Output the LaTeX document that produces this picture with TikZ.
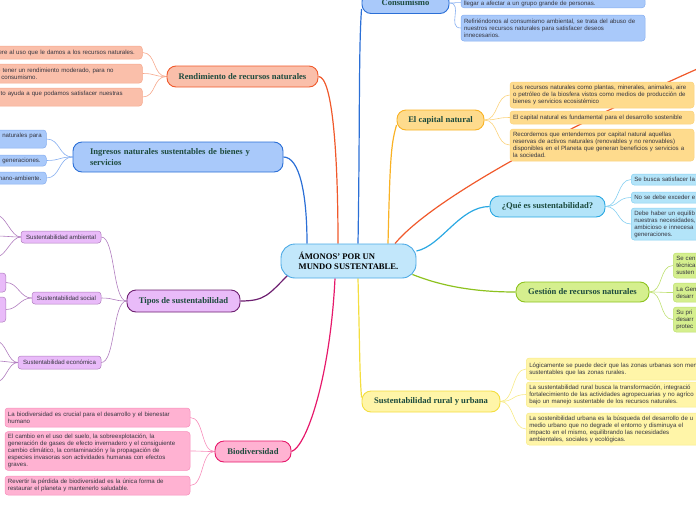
\documentclass[tikz,border=0pt]{standalone}
\usepackage{fontspec}
\setmainfont{Liberation Serif}
\setsansfont{Liberation Sans}
\usepackage{tikz}
\usetikzlibrary{positioning,calc,backgrounds}
\hyphenpenalty=10000
\exhyphenpenalty=10000

\definecolor{ctrfill}{HTML}{C2E7FB}
\definecolor{ctrline}{HTML}{4BA9E5}
\definecolor{bluefill}{HTML}{A9C9FA}
\definecolor{blueline}{HTML}{2B6FD6}
\definecolor{bluetwig}{HTML}{86AEF0}
\definecolor{redfill}{HTML}{FABFAA}
\definecolor{redline}{HTML}{F0592B}
\definecolor{redtwig}{HTML}{F6A88C}
\definecolor{goldfill}{HTML}{FEDB8D}
\definecolor{goldline}{HTML}{F9B224}
\definecolor{goldtwig}{HTML}{FBD37D}
\definecolor{cyanfill}{HTML}{B3E4F9}
\definecolor{cyanline}{HTML}{2AA8E2}
\definecolor{cyantwig}{HTML}{86D0F1}
\definecolor{limefill}{HTML}{D5EF8E}
\definecolor{limeline}{HTML}{8DC21F}
\definecolor{limetwig}{HTML}{BEE070}
\definecolor{yelfill}{HTML}{FFF5A8}
\definecolor{yelline}{HTML}{F4DE3F}
\definecolor{yeltwig}{HTML}{F7EA86}
\definecolor{pinkfill}{HTML}{FFB2D2}
\definecolor{pinkline}{HTML}{E6196B}
\definecolor{pinktwig}{HTML}{F78DBB}
\definecolor{lilafill}{HTML}{E9BBF9}
\definecolor{lilaline}{HTML}{6D1F70}
\definecolor{lilatwig}{HTML}{B07CBE}
\definecolor{maintext}{HTML}{1D4B3E}
\definecolor{leaftext}{HTML}{35353F}

\tikzset{
    mainbox/.style={draw, line width=0.9pt, rounded corners=9pt, inner sep=0pt,
        font=\bfseries\fontsize{8.6}{10.5}\selectfont, text=maintext, align=center},
    leafbox/.style={draw, line width=0.5pt, rounded corners=3pt, inner xsep=3pt, inner ysep=2.5pt,
        font=\sffamily\fontsize{6.1}{7}\selectfont, text=leaftext, align=left},
    branch/.style={line width=1.2pt},
    twig/.style={line width=0.6pt},
    blueset/.style={fill=bluefill, draw=bluetwig},
    redset/.style={fill=redfill, draw=redtwig},
    goldset/.style={fill=goldfill, draw=goldtwig},
    cyanset/.style={fill=cyanfill, draw=cyantwig},
    limeset/.style={fill=limefill, draw=limetwig},
    yelset/.style={fill=yelfill, draw=yeltwig},
    pinkset/.style={fill=pinkfill, draw=pinktwig},
    lilaset/.style={fill=lilafill, draw=lilatwig}
}

\begin{document}
\begin{tikzpicture}[x=1pt, y=-1pt]
    \useasboundingbox (0,0) rectangle (696,520);
    \clip (0,0) rectangle (696,520);

    % centre
    \node[mainbox, fill=ctrfill, draw=ctrline, text=black, rounded corners=14pt,
        minimum width=135, minimum height=34, align=left] (ctr) at (348.5,261)
        {ÁMONOS' POR UN\\MUNDO SUSTENTABLE.};

    % consumismo
    \node[mainbox, fill=bluefill, draw=blueline, minimum width=87, minimum height=21] (cons) at (405.5,3) {Consumismo};
    \node[leafbox, blueset, text width=178, inner ysep=1pt, anchor=south] (cs1) at (553,8) {\mbox{}\\llegar a afectar a un grupo grande de personas.};
    \node[leafbox, blueset, text width=178, minimum height=26] (cs2) at (553,28)
        {Refiriéndonos al consumismo ambiental, se trata del abuso de\\nuestros recursos naturales para satisfacer deseos\\innecesarios.};

    % rendimiento
    \node[mainbox, fill=redfill, draw=redline, minimum width=151, minimum height=21] (rend) at (242.5,76.5) {Rendimiento de recursos naturales};
    \node[leafbox, redset, text width=142, anchor=west, minimum height=13] (rd1) at (-6,52.5) {iere al uso que le damos a los recursos naturales.};
    \node[leafbox, redset, text width=142, anchor=west, minimum height=19] (rd2) at (-6,73.5) {e tener un rendimiento moderado, para no\\r consumismo.};
    \node[leafbox, redset, text width=142, anchor=west, minimum height=18] (rd3) at (-6,97) {nto ayuda a que podamos satisfacer nuestras\\\mbox{}};

    % ingresos
    \node[mainbox, fill=bluefill, draw=blueline, text width=176, inner xsep=17pt, minimum height=30, align=left] (ing) at (178,157)
        {Ingresos naturales sustentables de bienes y\\servicios};
    \node[leafbox, blueset, text width=46, anchor=west, minimum height=18] (in1) at (-6,139) {s naturales para\\\mbox{}};
    \node[leafbox, blueset, text width=46, anchor=west, minimum height=11] (in2) at (-6,160.5) {s generaciones.};
    \node[leafbox, blueset, text width=46, anchor=west, minimum height=12] (in3) at (-6,178) {mano-ambiente.};

    % capital natural
    \node[mainbox, fill=goldfill, draw=goldline, minimum width=87, minimum height=20] (cap) at (440.5,120) {El capital natural};
    \node[leafbox, goldset, text width=178, minimum height=26] (cn1) at (602,95)
        {Los recursos naturales como plantas, minerales, animales, aire\\o petróleo de la biosfera vistos como medios de producción de\\bienes y servicios ecosistémico};
    \node[leafbox, goldset, text width=178, minimum height=13] (cn2) at (602,117.5)
        {El capital natural es fundamental para el desarrollo sostenible};
    \node[leafbox, goldset, text width=178, minimum height=32] (cn3) at (602,145)
        {Recordemos que entendemos por capital natural aquellas\\reservas de activos naturales (renovables y no renovables)\\disponibles en el Planeta que generan beneficios y servicios a\\la sociedad.};
    \coordinate (offR) at (760,42);

    % que es sustentabilidad
    \node[mainbox, fill=cyanfill, draw=cyanline, minimum width=115, minimum height=21] (qs) at (547.5,206.5) {¿Qué es sustentabilidad?};
    \node[leafbox, cyanset, text width=200, anchor=west, minimum height=11] (qs1) at (631,179.5) {Se busca satisfacer la};
    \node[leafbox, cyanset, text width=200, anchor=west, minimum height=11] (qs2) at (631,197.5) {No se debe exceder e};
    \node[leafbox, cyanset, text width=200, anchor=west, minimum height=32] (qs3) at (631,224)
        {Debe haber un equilib\\nuestras necesidades,\\ambicioso e innecesa\\generaciones.};

    % gestion
    \node[mainbox, fill=limefill, draw=limeline, minimum width=133, minimum height=20] (gst) at (582.5,292) {Gestión de recursos naturales};
    \node[leafbox, limeset, text width=200, anchor=west, minimum height=25] (gs1) at (673,265.5) {Se cen\\técnica\\susten};
    \node[leafbox, limeset, text width=200, anchor=west, minimum height=19] (gs2) at (673,292.5) {La Gen\\desarr};
    \node[leafbox, limeset, text width=200, anchor=west, minimum height=25] (gs3) at (673,319.5) {Su pri\\desarr\\protec};

    % rural y urbana
    \node[mainbox, fill=yelfill, draw=yelline, minimum width=138, minimum height=21] (rsu) at (431,401.5) {Sustentabilidad rural y urbana};
    \node[leafbox, yelset, text width=200, anchor=west, minimum height=22] (sr1) at (526,369)
        {Lógicamente se puede decir que las zonas urbanas son men\\sustentables que las zonas rurales.};
    \node[leafbox, yelset, text width=200, anchor=west, minimum height=25] (sr2) at (526,394.5)
        {La sustentabilidad rural busca la transformación, integració\\fortalecimiento de las actividades agropecuarias y no agríco\\bajo un manejo sustentable de los recursos naturales.};
    \node[leafbox, yelset, text width=200, anchor=west, minimum height=32] (sr3) at (526,429)
        {La sostenibilidad urbana es la búsqueda del desarrollo de u\\medio urbano que no degrade el entorno y disminuya el\\impacto en el mismo, equilibrando las necesidades\\ambientales, sociales y ecológicas.};

    % biodiversidad
    \node[mainbox, fill=pinkfill, draw=pinkline, minimum width=76, minimum height=21] (bio) at (253,451.5) {Biodiversidad};
    \node[leafbox, pinkset, text width=179, minimum height=19] (bd1) at (97.5,417.5)
        {La biodiversidad es crucial para el desarrollo y el bienestar\\humano};
    \node[leafbox, pinkset, text width=179, minimum height=38] (bd2) at (97.5,451)
        {El cambio en el uso del suelo, la sobreexplotación, la\\generación de gases de efecto invernadero y el consiguiente\\cambio climático, la contaminación y la propagación de\\especies invasoras son actividades humanas con efectos\\graves.};
    \node[leafbox, pinkset, text width=179, minimum height=19] (bd3) at (97.5,485.5)
        {Revertir la pérdida de biodiversidad es la única forma de\\restaurar el planeta y mantenerlo saludable.};

    % tipos
    \node[mainbox, fill=lilafill, draw=lilaline, minimum width=113, minimum height=22] (tip) at (183.5,301) {Tipos de sustentabilidad};
    \node[leafbox, lilaset, minimum width=80, minimum height=12, inner xsep=0pt] (ta) at (61,237) {Sustentabilidad ambiental};
    \node[leafbox, lilaset, minimum width=69, minimum height=12, inner xsep=0pt] (ts) at (66.5,298) {Sustentabilidad social};
    \node[leafbox, lilaset, minimum width=83, minimum height=13, inner xsep=0pt] (te) at (59.5,362.5) {Sustentabilidad económica};
    \node[leafbox, lilaset, minimum width=16, minimum height=19, anchor=east] (ts1) at (6,282.5) {};
    \node[leafbox, lilaset, minimum width=16, minimum height=25, anchor=east] (ts2) at (6,309.5) {};
    \coordinate (ta1) at (-4,215);
    \coordinate (ta2) at (-4,236);
    \coordinate (ta3) at (-4,257);
    \coordinate (te1) at (-4,341);
    \coordinate (te2) at (-4,361);
    \coordinate (te3) at (-4,382);

    \begin{scope}[on background layer]
        % main branches
        \draw[branch, blueline] ([xshift=9.5pt]ctr.north) .. controls +(2,-120) and +(-3,40) .. ([yshift=-6pt]cons.west);
        \draw[branch, redline] ([xshift=-10.5pt]ctr.north) .. controls +(0,-90) and +(14,0) .. (rend.east);
        \draw[branch, blueline] ([xshift=-41.5pt]ctr.north) .. controls +(0,-50) and +(16,0) .. (ing.east);
        \draw[branch, goldline] ([xshift=39.5pt]ctr.north) .. controls +(2,-80) and +(-6,20) .. ([yshift=-5pt]cap.west);
        \draw[branch, redline] ([xshift=46.5pt]ctr.north) .. controls +(45,-54) and +(-140,58) .. (offR);
        \draw[branch, cyanline] ([yshift=10pt]ctr.east) .. controls +(25,-5) and +(-30,0) .. (qs.west);
        \draw[branch, limeline] ([xshift=-4pt,yshift=4pt]ctr.south east) .. controls +(30,12) and +(-40,0) .. (gst.west);
        \draw[branch, yelline] ([xshift=9.5pt]ctr.south) .. controls +(2,80) and +(-2,-25) .. ([yshift=4pt]rsu.west);
        \draw[branch, pinkline] ([xshift=-13.5pt]ctr.south) .. controls +(-5,100) and +(15,-5) .. (bio.east);
        \draw[branch, lilaline] ([xshift=8pt,yshift=4pt]ctr.south west) .. controls +(-20,20) and +(25,0) .. (tip.east);

        % twigs
        \foreach \leaf in {cs1,cs2}
            \draw[twig, bluetwig] (cons.east) .. controls +(14,0) and +(-14,0) .. (\leaf.west);
        \foreach \leaf in {rd1,rd2,rd3}
            \draw[twig, redtwig] (rend.west) .. controls +(-14,0) and +(14,0) .. (\leaf.east);
        \foreach \leaf in {in1,in2,in3}
            \draw[twig, bluetwig] (ing.west) .. controls +(-14,0) and +(14,0) .. (\leaf.east);
        \foreach \leaf in {cn1,cn2,cn3}
            \draw[twig, goldtwig] (cap.east) .. controls +(14,0) and +(-14,0) .. (\leaf.west);
        \foreach \leaf in {qs1,qs2,qs3}
            \draw[twig, cyantwig] (qs.east) .. controls +(14,0) and +(-14,0) .. (\leaf.west);
        \foreach \leaf in {gs1,gs2,gs3}
            \draw[twig, limetwig] (gst.east) .. controls +(14,0) and +(-14,0) .. (\leaf.west);
        \foreach \leaf in {sr1,sr2,sr3}
            \draw[twig, yeltwig] (rsu.east) .. controls +(14,0) and +(-14,0) .. (\leaf.west);
        \foreach \leaf in {bd1,bd2,bd3}
            \draw[twig, pinktwig] (bio.west) .. controls +(-14,0) and +(14,0) .. (\leaf.east);
        \foreach \leaf in {ta,ts,te}
            \draw[twig, lilatwig] (tip.west) .. controls +(-14,0) and +(14,0) .. (\leaf.east);
        \foreach \leaf in {ta1,ta2,ta3}
            \draw[twig, lilatwig] (ta.west) .. controls +(-10,0) and +(10,0) .. (\leaf);
        \foreach \leaf in {ts1,ts2}
            \draw[twig, lilatwig] (ts.west) .. controls +(-12,0) and +(12,0) .. (\leaf.east);
        \foreach \leaf in {te1,te2,te3}
            \draw[twig, lilatwig] (te.west) .. controls +(-10,0) and +(10,0) .. (\leaf);
    \end{scope}
\end{tikzpicture}
\end{document}
